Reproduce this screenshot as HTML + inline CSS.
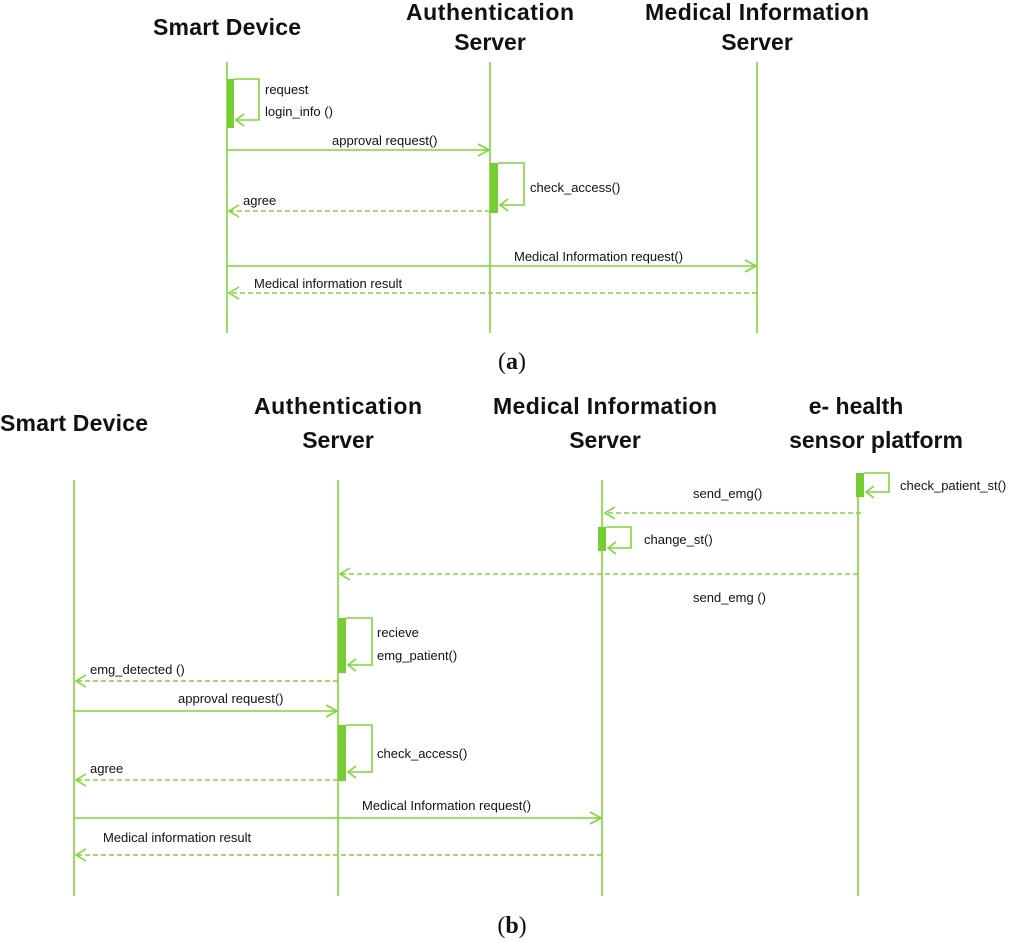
<!DOCTYPE html>
<html><head><meta charset="utf-8"><style>
html,body{margin:0;padding:0;background:#fff;}
svg{display:block;}
.t{font-family:"Liberation Sans",sans-serif;font-weight:bold;font-size:23px;fill:#111;text-anchor:middle;}
.l{font-family:"Liberation Sans",sans-serif;font-size:13px;fill:#111;}
.s{stroke:#7ed63a;stroke-width:1.6;fill:none;}
.d{stroke:#7ed63a;stroke-width:1.6;fill:none;stroke-dasharray:5,3;}
.b{fill:#77cc33;}
.c{font-family:"Liberation Serif",serif;font-size:24px;fill:#111;text-anchor:middle;}
</style></head><body>
<svg width="1024" height="942" viewBox="0 0 1024 942" xmlns="http://www.w3.org/2000/svg">
<!-- (a) -->
<text class="t" x="227" y="35" textLength="148">Smart Device</text>
<text class="t" x="490" y="20" textLength="168">Authentication</text>
<text class="t" x="490" y="50">Server</text>
<text class="t" x="757" y="20" textLength="224">Medical Information</text>
<text class="t" x="757" y="50">Server</text>
<line class="s" x1="227" y1="62" x2="227" y2="333"/>
<line class="s" x1="490" y1="62" x2="490" y2="333"/>
<line class="s" x1="757" y1="62" x2="757" y2="333"/>

<rect class="b" x="227" y="79" width="7" height="49"/>
<polyline class="s" points="234,79 259,79 259,120 236,120"/>
<polyline class="s" points="244,114 236,120 244,126"/>
<text class="l" x="265" y="94" font-size="14">request</text>
<text class="l" x="265" y="116" font-size="14">login_info ()</text>

<line class="s" x1="227" y1="150" x2="489" y2="150"/>
<polyline class="s" points="478,144 489,150 478,156"/>
<text class="l" x="332" y="145">approval request()</text>

<rect class="b" x="490" y="163" width="8" height="50"/>
<polyline class="s" points="498,163 524,163 524,205 500,205"/>
<polyline class="s" points="508,199 500,205 508,211"/>
<text class="l" x="530" y="192" font-size="14">check_access()</text>

<line class="d" x1="490" y1="211" x2="229" y2="211"/>
<polyline class="s" points="239,205 229,211 239,217"/>
<text class="l" x="243" y="205">agree</text>

<line class="s" x1="227" y1="266" x2="756" y2="266"/>
<polyline class="s" points="745,260 756,266 745,272"/>
<text class="l" x="514" y="261">Medical Information request()</text>

<line class="d" x1="757" y1="293" x2="229" y2="293"/>
<polyline class="s" points="239,287 229,293 239,299"/>
<text class="l" x="254" y="288">Medical information result</text>

<text class="c" x="512" y="369"><tspan>(</tspan><tspan font-weight="bold">a</tspan><tspan>)</tspan></text>

<!-- (b) -->
<text class="t" x="74" y="431" textLength="148">Smart Device</text>
<text class="t" x="338" y="414" textLength="168">Authentication</text>
<text class="t" x="338" y="448">Server</text>
<text class="t" x="605" y="414" textLength="224">Medical Information</text>
<text class="t" x="605" y="448">Server</text>
<text class="t" x="856" y="414">e- health</text>
<text class="t" x="876" y="448">sensor platform</text>

<line class="s" x1="74" y1="480" x2="74" y2="896"/>
<line class="s" x1="338" y1="480" x2="338" y2="896"/>
<line class="s" x1="602" y1="480" x2="602" y2="896"/>
<line class="s" x1="858" y1="480" x2="858" y2="896"/>

<rect class="b" x="856" y="473" width="8" height="24"/>
<polyline class="s" points="864,473 889,473 889,492 866,492"/>
<polyline class="s" points="874,486 866,492 874,498"/>
<text class="l" x="900" y="490" font-size="14">check_patient_st()</text>

<line class="d" x1="861" y1="513" x2="605" y2="513"/>
<polyline class="s" points="615,507 605,513 615,519"/>
<text class="l" x="693" y="498">send_emg()</text>

<rect class="b" x="598" y="527" width="8" height="24"/>
<polyline class="s" points="606,527 631,527 631,548 608,548"/>
<polyline class="s" points="616,542 608,548 616,554"/>
<text class="l" x="644" y="544" font-size="14">change_st()</text>

<line class="d" x1="858" y1="574" x2="340" y2="574"/>
<polyline class="s" points="350,568 340,574 350,580"/>
<text class="l" x="693" y="602">send_emg ()</text>

<rect class="b" x="338" y="618" width="8" height="55"/>
<polyline class="s" points="346,618 372,618 372,665 348,665"/>
<polyline class="s" points="356,659 348,665 356,671"/>
<text class="l" x="377" y="637" font-size="14">recieve</text>
<text class="l" x="377" y="660" font-size="14">emg_patient()</text>

<line class="d" x1="338" y1="681" x2="76" y2="681"/>
<polyline class="s" points="86,675 76,681 86,687"/>
<text class="l" x="90" y="674">emg_detected ()</text>

<line class="s" x1="74" y1="711" x2="337" y2="711"/>
<polyline class="s" points="326,705 337,711 326,717"/>
<text class="l" x="178" y="703">approval request()</text>

<rect class="b" x="338" y="725" width="8" height="56"/>
<polyline class="s" points="346,725 372,725 372,772 348,772"/>
<polyline class="s" points="356,766 348,772 356,778"/>
<text class="l" x="377" y="758" font-size="14">check_access()</text>

<line class="d" x1="338" y1="780" x2="76" y2="780"/>
<polyline class="s" points="86,774 76,780 86,786"/>
<text class="l" x="90" y="773">agree</text>

<line class="s" x1="74" y1="818" x2="601" y2="818"/>
<polyline class="s" points="590,812 601,818 590,824"/>
<text class="l" x="362" y="810">Medical Information request()</text>

<line class="d" x1="602" y1="855" x2="76" y2="855"/>
<polyline class="s" points="86,849 76,855 86,861"/>
<text class="l" x="103" y="842">Medical information result</text>

<text class="c" x="512" y="933"><tspan>(</tspan><tspan font-weight="bold">b</tspan><tspan>)</tspan></text>
</svg>
</body></html>
